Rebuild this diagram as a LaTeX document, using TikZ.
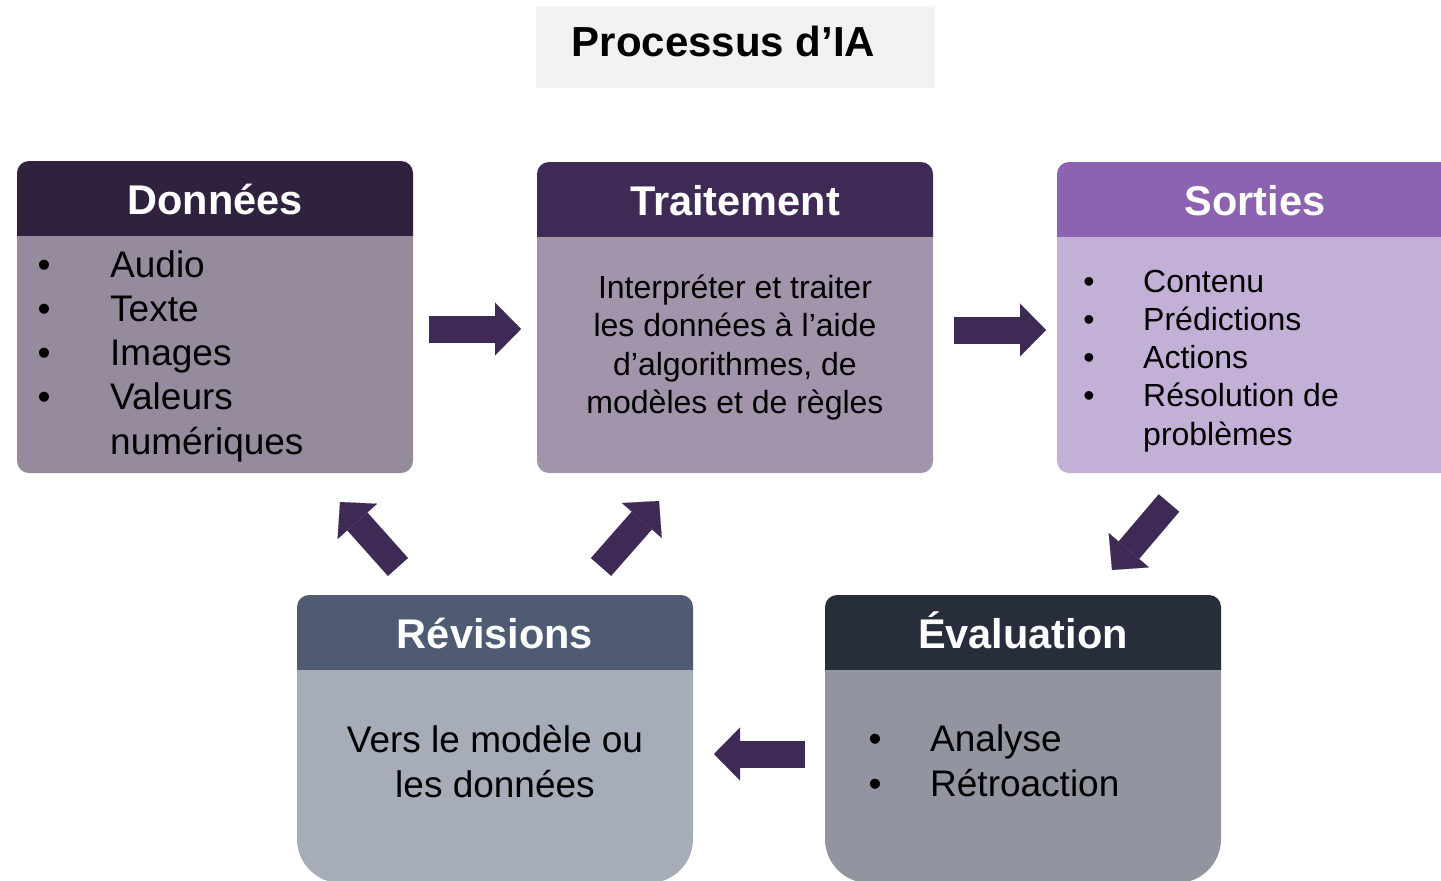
\documentclass[tikz,border=0pt]{standalone}
\usepackage{fontspec}
\setmainfont{Liberation Sans}
\usetikzlibrary{arrows.meta}
\definecolor{hdA}{HTML}{30213F}
\definecolor{bdA}{HTML}{958B9D}
\definecolor{hdB}{HTML}{3F2A55}
\definecolor{bdB}{HTML}{A294AB}
\definecolor{hdC}{HTML}{8B63B0}
\definecolor{bdC}{HTML}{C3B0D7}
\definecolor{hdD}{HTML}{4F5B73}
\definecolor{bdD}{HTML}{A6ACB8}
\definecolor{hdE}{HTML}{272D3B}
\definecolor{bdE}{HTML}{92959F}
\definecolor{arrowc}{HTML}{3F2A56}
\definecolor{titlebg}{HTML}{F2F2F2}
\newcommand\drawpanel[8]{%
  \begin{scope}
    \clip (#1,#5) rectangle (#3,#4+1);
    \fill[#7, rounded corners=#8] (#1,#5-60) rectangle (#3,#4);
  \end{scope}
  \begin{scope}
    \clip (#1,#2-1) rectangle (#3,#5);
    \fill[#6, rounded corners=12pt] (#1,#2) rectangle (#3,#5+20);
  \end{scope}
}
\begin{document}
\begin{tikzpicture}[x=1pt,y=-1pt,
  hdr/.style={font=\fontsize{41.5}{48}\selectfont\bfseries, text=white, anchor=base, inner sep=0pt},
  bigl/.style={font=\fontsize{37}{45}\selectfont, anchor=base west, inner sep=0pt},
  bigc/.style={font=\fontsize{37}{45}\selectfont, anchor=base, inner sep=0pt},
  bigb/.style={font=\fontsize{37}{45}\selectfont, anchor=base, inner sep=0pt},
  midl/.style={font=\fontsize{32}{38}\selectfont, anchor=base west, inner sep=0pt},
  midc/.style={font=\fontsize{32}{38}\selectfont, anchor=base, inner sep=0pt},
  midb/.style={font=\fontsize{32}{38}\selectfont, anchor=base, inner sep=0pt},
  blockarrow/.style={draw=arrowc, line width=27pt,
    -{Triangle[length=26pt 0 0, width=53pt 0 0, line width=0.1pt]}}
]
\useasboundingbox (0,0) rectangle (1441,881);
\clip (0,0) rectangle (1441,881);

% title
\fill[titlebg] (536,6) rectangle (935,88);
\node[font=\fontsize{42}{48}\selectfont\bfseries, anchor=base, inner sep=0pt] (title) at (723.5,56) {Processus d’IA};

% panels
\drawpanel{17}{161}{413}{473}{235}{hdA}{bdA}{12pt}
\drawpanel{537}{162}{933}{473}{236}{hdB}{bdB}{12pt}
\drawpanel{1057}{162}{1470}{473}{236}{hdC}{bdC}{12pt}
\drawpanel{297}{595}{693}{883}{669}{hdD}{bdD}{44pt}
\drawpanel{825}{595}{1221}{883}{669}{hdE}{bdE}{44pt}

% headers
\node[hdr] (hA) at (215,214) {Données};
\node[hdr] (hB) at (735,215) {Traitement};
\node[hdr] (hC) at (1255,215) {Sorties};
\node[hdr] (hD) at (495,648) {Révisions};
\node[hdr] (hE) at (1023,648) {Évaluation};

% Données list
\foreach \t [count=\i] in {Audio,Texte,Images,Valeurs}{
  \node[bigb] (bA\i) at (44,277+44.3*\i-44.3) {\textbullet};
  \node[bigl] (tA\i) at (110,277+44.3*\i-44.3) {\t};
}
\node[bigl] (tA5) at (110,454) {numériques};

% Traitement text
\node[midc] (tB1) at (735,298) {Interpréter et traiter};
\node[midc] (tB2) at (735,336.5) {les données à l’aide};
\node[midc] (tB3) at (735,375) {d’algorithmes, de};
\node[midc] (tB4) at (735,413.5) {modèles et de règles};

% Sorties list
\foreach \t [count=\i] in {Contenu,Prédictions,Actions,Résolution de}{
  \node[midb] (bC\i) at (1089,292+38.3*\i-38.3) {\textbullet};
  \node[midl] (tC\i) at (1143,292+38.3*\i-38.3) {\t};
}
\node[midl] (tC5) at (1143,445) {problèmes};

% Révisions text
\node[bigc] (tD1) at (495,752) {Vers le modèle ou};
\node[bigc] (tD2) at (495,797) {les données};

% Évaluation list
\node[bigb] (bE1) at (875,751) {\textbullet};
\node[bigl] (tE1) at (930,751) {Analyse};
\node[bigb] (bE2) at (875,796) {\textbullet};
\node[bigl] (tE2) at (930,796) {Rétroaction};

% arrows
\coordinate (a1s) at (429,329); \coordinate (a1e) at (521,329);
\coordinate (a2s) at (954,330); \coordinate (a2e) at (1046,330);
\coordinate (a3s) at (805,754); \coordinate (a3e) at (714,754);
\coordinate (a4s) at (398,567); \coordinate (a4e) at (340,502);
\coordinate (a5s) at (601,567); \coordinate (a5e) at (659,501);
\coordinate (a6s) at (1169,503); \coordinate (a6e) at (1112,570);
\draw[blockarrow] (a1s) -- (a1e);
\draw[blockarrow] (a2s) -- (a2e);
\draw[blockarrow] (a3s) -- (a3e);
\draw[blockarrow] (a4s) -- (a4e);
\draw[blockarrow] (a5s) -- (a5e);
\draw[blockarrow] (a6s) -- (a6e);
\end{tikzpicture}
\end{document}
